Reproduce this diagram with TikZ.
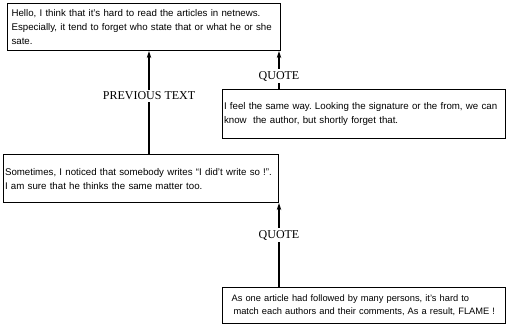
\documentclass[tikz,border=0pt]{standalone}
\usepackage{fontspec}
\setmainfont{Liberation Serif}
\setsansfont{Liberation Sans}
\usetikzlibrary{arrows.meta}
\frenchspacing

\begin{document}
\begin{tikzpicture}[x=1pt,y=-1pt,
  msg/.style={draw,line width=1.1pt,anchor=north west,align=left,
    font=\sffamily\fontsize{9.7}{14}\selectfont,inner ysep=0pt},
  lbl/.style={font=\rmfamily\fontsize{12}{14}\selectfont,inner sep=2pt},
  link/.style={line width=1.6pt},
  arr/.style={line width=1.6pt,-{Stealth[length=7pt,width=4.5pt]}}]
\useasboundingbox (0,0) rectangle (506,327);
%
\node[msg,inner xsep=4pt,text width=265pt,minimum height=47pt] (hello) at (7,3)
  {Hello, I think that it's hard to read the articles in netnews.\\
   Especially, it tend to forget who state that or what he or she\\
   sate.};
\node[msg,inner xsep=1.5pt,text width=280pt,minimum height=49pt] (feel) at (222,89)
  {I feel the same way. Looking the signature or the from, we can\\
   know\ \ the author, but shortly forget that.};
\node[msg,inner xsep=1.5pt,text width=272pt,minimum height=48pt] (sometimes) at (3,154)
  {Sometimes, I noticed that somebody writes ``I did't write so !''.\\
   I am sure that he thinks the same matter too.};
\node[msg,inner xsep=1pt,text width=281pt,minimum height=36pt,
  font=\sffamily\fontsize{9.3}{13}\selectfont] (flame) at (222,287)
  {\mbox{\hspace*{8pt}As one article had followed by many persons, it's hard to}\\
   \mbox{\hspace*{10pt}match each authors and their comments, As a result, FLAME !}};
%
\node[lbl] (prev) at (149,96) {PREVIOUS TEXT};
\node[lbl] (quoteA) at (279,76) {QUOTE};
\node[lbl] (quoteB) at (279,235) {QUOTE};
%
\draw[arr] (prev) -- (prev |- hello.south);
\draw[link] (prev) -- (prev |- sometimes.north);
\draw[arr] (quoteA) -- (quoteA |- hello.south);
\draw[link] (quoteA) -- (quoteA |- feel.north);
\draw[arr] (quoteB) -- (quoteB |- sometimes.south);
\draw[link] (quoteB) -- (quoteB |- flame.north);
\end{tikzpicture}
\end{document}
